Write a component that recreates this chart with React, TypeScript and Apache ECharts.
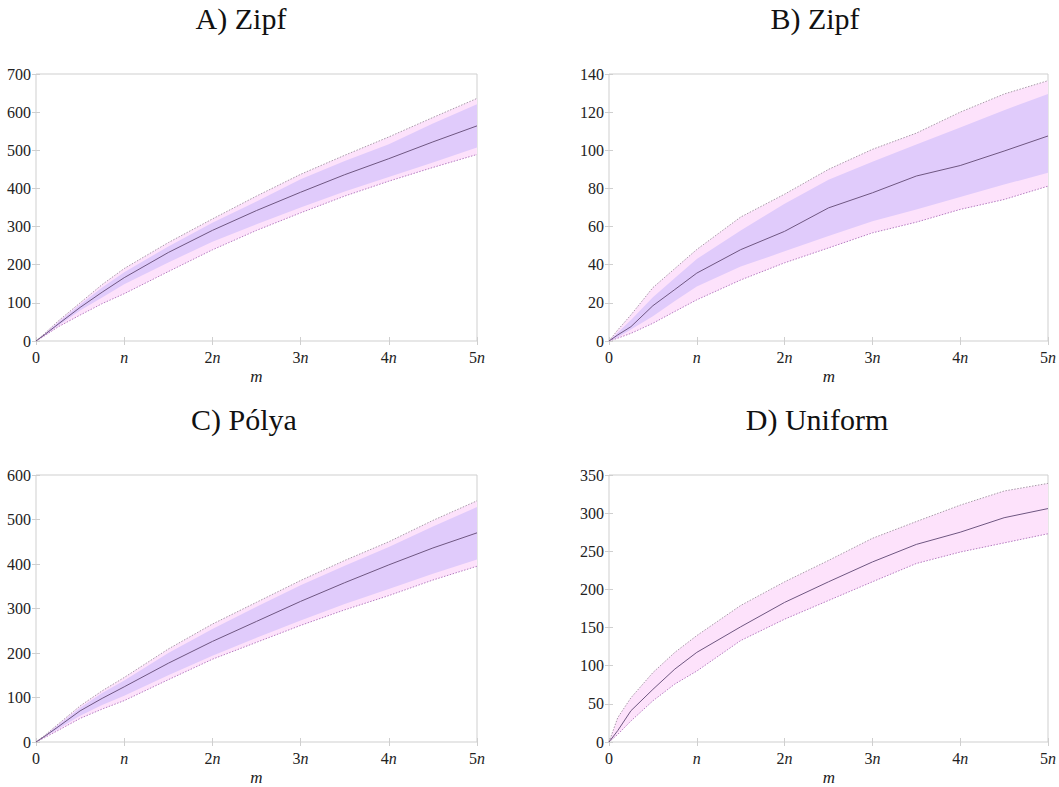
import React, { useEffect, useRef } from "react";
import * as echarts from "echarts";

// x positions in units of n
const XS = [0, 0.1, 0.25, 0.5, 0.75, 1, 1.5, 2, 2.5, 3, 3.5, 4, 4.5, 5];
const X_TICKS = ["0", "n", "2n", "3n", "4n", "5n"];

// A) Zipf
const A_median = [0, 17, 44, 88, 128, 166, 232, 290, 342, 390, 436, 478, 522, 564];
const A_outerUpper = [0, 20, 52, 100, 148, 190, 258, 320, 380, 437, 487, 535, 586, 636];
const A_innerUpper = [0, 19, 49, 96, 140, 180, 248, 310, 366, 424, 472, 516, 570, 621];
const A_innerLower = [0, 15, 40, 80, 114, 149, 206, 260, 306, 350, 392, 430, 468, 507];
const A_outerLower = [0, 14, 37, 68, 98, 124, 182, 239, 290, 336, 380, 419, 455, 489];

// B) Zipf
const B_median = [0, 3.2, 7.5, 18.5, 27, 35.6, 47.9, 57.5, 69.8, 77.7, 86.5, 92, 99.6, 107.5];
const B_outerUpper = [0, 5.8, 13.7, 28, 38, 48, 65, 77, 90, 100.5, 109, 120, 129.5, 136.5];
const B_innerUpper = [0, 4.5, 11, 23, 33, 43, 58, 72, 84.5, 94, 103, 112, 121, 129.5];
const B_innerLower = [0, 2, 6, 13, 21, 28.6, 39, 47, 55, 62.8, 69, 75.5, 82, 88.2];
const B_outerLower = [0, 1.5, 4, 9.3, 15.5, 21.6, 32, 41, 48.8, 56.7, 62.3, 69, 74.2, 81.2];

// C) Pólya
const C_median = [0, 13, 34, 70, 98, 124, 177, 226, 271, 316, 358, 398, 436, 470];
const C_outerUpper = [0, 15, 40, 81, 115, 145, 209, 265, 314, 363, 408, 450, 498, 542];
const C_innerUpper = [0, 14, 38, 77, 110, 138, 200, 254, 304, 352, 396, 438, 484, 528];
const C_innerLower = [0, 11, 29, 59, 83, 104, 150, 194, 234, 273, 310, 344, 378, 410];
const C_outerLower = [0, 10, 26, 53, 74, 93, 140, 186, 224, 262, 297, 329, 364, 395];

// D) Uniform
const D_median = [0, 15, 41, 69, 95.6, 117.5, 151, 183, 210, 236, 259, 275, 294, 306];
const D_outerUpper = [0, 32, 58, 91, 117.5, 139.5, 179, 210, 238, 267, 289, 310.5, 329, 339];
const D_outerLower = [0, 10, 27.6, 54, 76, 93, 133, 161, 185.5, 210, 234, 249, 261, 273];

const FONT = "Liberation Serif";
const PINK = "#fde2fb";
const PURPLE = "#e0cbfb";
const MEDIAN = "#6e5680";
const UPPER_DOT = "#a79aa7";
const LOWER_DOT = "#b57cc0";
const FRAME = "#cfcfcf";

type Panel = {
  title: string;
  titleX: number;
  titleY: number;
  left: number;
  top: number;
  width: number;
  height: number;
  yMax: number;
  yInterval: number;
  median: number[];
  outerUpper: number[];
  outerLower: number[];
  innerUpper?: number[];
  innerLower?: number[];
};

const PANELS: Panel[] = [
  { title: "A) Zipf", titleX: 241, titleY: 18, left: 36, top: 74, width: 441, height: 267, yMax: 700, yInterval: 100,
    median: A_median, outerUpper: A_outerUpper, outerLower: A_outerLower, innerUpper: A_innerUpper, innerLower: A_innerLower },
  { title: "B) Zipf", titleX: 815, titleY: 18, left: 609, top: 74, width: 440, height: 267, yMax: 140, yInterval: 20,
    median: B_median, outerUpper: B_outerUpper, outerLower: B_outerLower, innerUpper: B_innerUpper, innerLower: B_innerLower },
  { title: "C) Pólya", titleX: 244, titleY: 419, left: 36, top: 475, width: 441, height: 267, yMax: 600, yInterval: 100,
    median: C_median, outerUpper: C_outerUpper, outerLower: C_outerLower, innerUpper: C_innerUpper, innerLower: C_innerLower },
  { title: "D) Uniform", titleX: 817, titleY: 419, left: 609, top: 475, width: 440, height: 267, yMax: 350, yInterval: 50,
    median: D_median, outerUpper: D_outerUpper, outerLower: D_outerLower },
];

const pairs = (ys: number[]) => XS.map((x, i) => [x, ys[i]]);

function xTickFormatter(v: number) {
  const s = X_TICKS[Math.round(v)] ?? "";
  if (s === "0") return "0";
  if (s.length === 1) return "{i|" + s + "}";
  return s.slice(0, -1) + "{i|n}";
}

function bandSeries(i: number, upper: number[], lower: number[], color: string) {
  return {
    type: "custom",
    xAxisIndex: 2 * i,
    yAxisIndex: 2 * i,
    silent: true,
    data: [[0, 0]],
    renderItem: (_params: any, api: any) => {
      const pts: number[][] = [];
      for (let k = 0; k < XS.length; k++) pts.push(api.coord([XS[k], upper[k]]));
      for (let k = XS.length - 1; k >= 0; k--) pts.push(api.coord([XS[k], lower[k]]));
      return { type: "polygon", shape: { points: pts }, style: { fill: color, stroke: "none" } };
    },
  };
}

function buildOption() {
  const grid: any[] = [];
  const xAxis: any[] = [];
  const yAxis: any[] = [];
  const series: any[] = [];
  const graphic: any[] = [];

  PANELS.forEach((p, i) => {
    grid.push({ left: p.left, top: p.top, width: p.width, height: p.height, show: true, borderColor: FRAME, borderWidth: 1, backgroundColor: "transparent" });
    const tick = { show: true, inside: true, length: 4, lineStyle: { color: FRAME, width: 1 } };
    xAxis.push({
      gridIndex: i, type: "value", min: 0, max: 5, interval: 1, position: "bottom",
      axisLine: { show: false }, axisTick: tick, splitLine: { show: false },
      axisLabel: {
        margin: 8, color: "#222", fontFamily: FONT, fontSize: 16, formatter: xTickFormatter,
        rich: { i: { fontStyle: "italic", fontFamily: FONT, fontSize: 16, color: "#222" } },
      },
    });
    xAxis.push({
      gridIndex: i, type: "value", min: 0, max: 5, interval: 1, position: "top",
      axisLine: { show: false }, axisTick: tick, splitLine: { show: false }, axisLabel: { show: false },
    });
    yAxis.push({
      gridIndex: i, type: "value", min: 0, max: p.yMax, interval: p.yInterval, position: "left",
      axisLine: { show: false }, axisTick: tick, splitLine: { show: false },
      axisLabel: { margin: 5, color: "#222", fontFamily: FONT, fontSize: 16 },
    });
    yAxis.push({
      gridIndex: i, type: "value", min: 0, max: p.yMax, interval: p.yInterval, position: "right",
      axisLine: { show: false }, axisTick: tick, splitLine: { show: false }, axisLabel: { show: false },
    });

    const ax = { xAxisIndex: 2 * i, yAxisIndex: 2 * i, symbol: "none", silent: true };
    series.push(bandSeries(i, p.outerUpper, p.outerLower, PINK));
    if (p.innerUpper && p.innerLower) series.push(bandSeries(i, p.innerUpper, p.innerLower, PURPLE));
    series.push({ ...ax, type: "line", data: pairs(p.outerUpper), lineStyle: { color: UPPER_DOT, width: 1, type: [1.5, 1.5] } });
    series.push({ ...ax, type: "line", data: pairs(p.outerLower), lineStyle: { color: LOWER_DOT, width: 1, type: [1.5, 1.5] } });
    series.push({ ...ax, type: "line", data: pairs(p.median), lineStyle: { color: MEDIAN, width: 1 } });

    graphic.push({
      type: "text", x: p.titleX, y: p.titleY,
      style: { text: p.title, font: `30px ${FONT}`, fill: "#111", align: "center", verticalAlign: "middle" },
    });
    graphic.push({
      type: "text", x: p.left + p.width / 2, y: p.top + p.height + 35,
      style: { text: "m", font: `italic 17px ${FONT}`, fill: "#222", align: "center", verticalAlign: "middle" },
    });
  });

  return { animation: false, backgroundColor: "#fff", grid, xAxis, yAxis, series, graphic };
}

export default function App() {
  const ref = useRef<HTMLDivElement>(null);
  useEffect(() => {
    if (!ref.current) return;
    const chart = echarts.init(ref.current, null, { renderer: "svg" });
    chart.setOption(buildOption() as any);
    return () => chart.dispose();
  }, []);
  return <div ref={ref} style={{ position: "absolute", left: 0, top: 0, width: 1059, height: 787 }} />;
}
